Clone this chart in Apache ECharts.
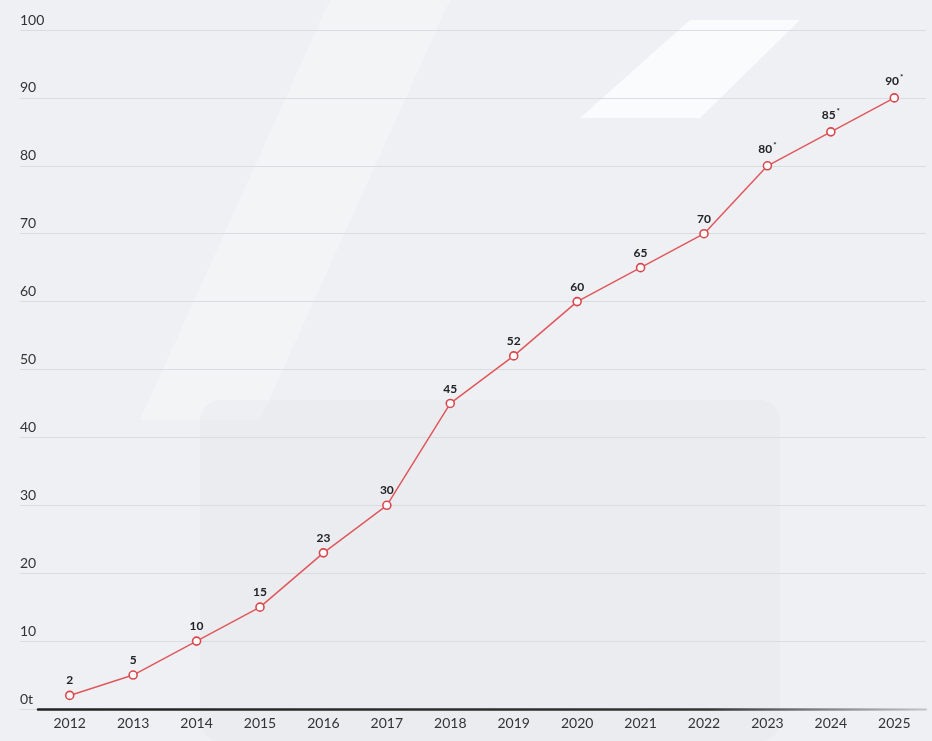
<!DOCTYPE html>
<html><head><meta charset="utf-8">
<script src="https://cdn.jsdelivr.net/npm/echarts@6/dist/echarts.min.js"></script>
<style>html,body{margin:0;padding:0;background:#eef0f3;}#c{width:932px;height:741px;}</style>
</head><body><div id="c"></div>
<script>
const years = ['2012','2013','2014','2015','2016','2017','2018','2019','2020','2021','2022','2023','2024','2025'];
const values = [2,5,10,15,23,30,45,52,60,65,70,80,85,90];
const estimated = [false,false,false,false,false,false,false,false,false,false,false,true,true,true];
const yTickLabels = ['0t','10','20','30','40','50','60','70','80','90','100'];

const chart = echarts.init(document.getElementById('c'));
const font = 'Lato, "Noto Sans", sans-serif';
chart.setOption({
  backgroundColor: '#eef0f3',
  graphic: [
    {type:'polygon', z:-10, shape:{points:[[330,0],[450,0],[260,420],[140,420]]}, style:{fill:'rgba(255,255,255,0.3)'}},
    {type:'polygon', z:-10, shape:{points:[[690,20],[800,20],[700,118],[580,118]]}, style:{fill:'rgba(255,255,255,0.7)'}},
    {type:'rect', z:-10, shape:{x:200,y:400,width:580,height:341,r:20}, style:{fill:'rgba(225,228,233,0.3)'}}
  ],
  grid: [
    {left: 20, right: 6, top: 30, bottom: 32},
    {left: 38, right: 6, top: 30, bottom: 32}
  ],
  xAxis: [
    {gridIndex: 0, type: 'value', show: false, min: 0, max: 1},
    {gridIndex: 1, type: 'category', data: years, boundaryGap: true,
     axisLine: {lineStyle: {width: 2.5, color: new echarts.graphic.LinearGradient(0,0,1,0,[
       {offset:0,color:'#222'},{offset:0.75,color:'#333'},{offset:1,color:'rgba(60,60,60,0.15)'}])}},
     axisTick: {show: false},
     axisLabel: {color: '#333', fontSize: 14, fontFamily: font, margin: 7}}
  ],
  yAxis: [
    {gridIndex: 0, type: 'value', min: 0, max: 100, interval: 10,
     axisLine: {show: false}, axisTick: {show: false},
     splitLine: {lineStyle: {color: '#d9dce1', width: 1}},
     axisLabel: {inside: true, margin: 0, verticalAlign: 'bottom', padding: [0,0,3,0],
       color: '#333', fontSize: 14, fontFamily: font,
       formatter: function (v) { return yTickLabels[Math.round(v / 10)]; }}},
    {gridIndex: 1, type: 'value', min: 0, max: 100, interval: 10, show: false, splitLine:{show:false}}
  ],
  series: [{
    type: 'line', xAxisIndex: 1, yAxisIndex: 1,
    data: values,
    symbol: 'circle', symbolSize: 8,
    itemStyle: {color: '#fff', borderColor: '#d9474c', borderWidth: 1.6},
    lineStyle: {color: '#e0585c', width: 1.5},
    label: {show: true, position: 'top', distance: 4,
      formatter: function (p) { return estimated[p.dataIndex] ? p.value + '{s|*}' : String(p.value); },
      color: '#222', fontSize: 12, fontWeight: 'bold', fontFamily: font,
      rich: {s: {fontSize: 8, verticalAlign: 'top', padding: [0,0,8,1], color: '#222', fontWeight:'bold'}}},
    animation: false
  }],
  animation: false
});
</script></body></html>
